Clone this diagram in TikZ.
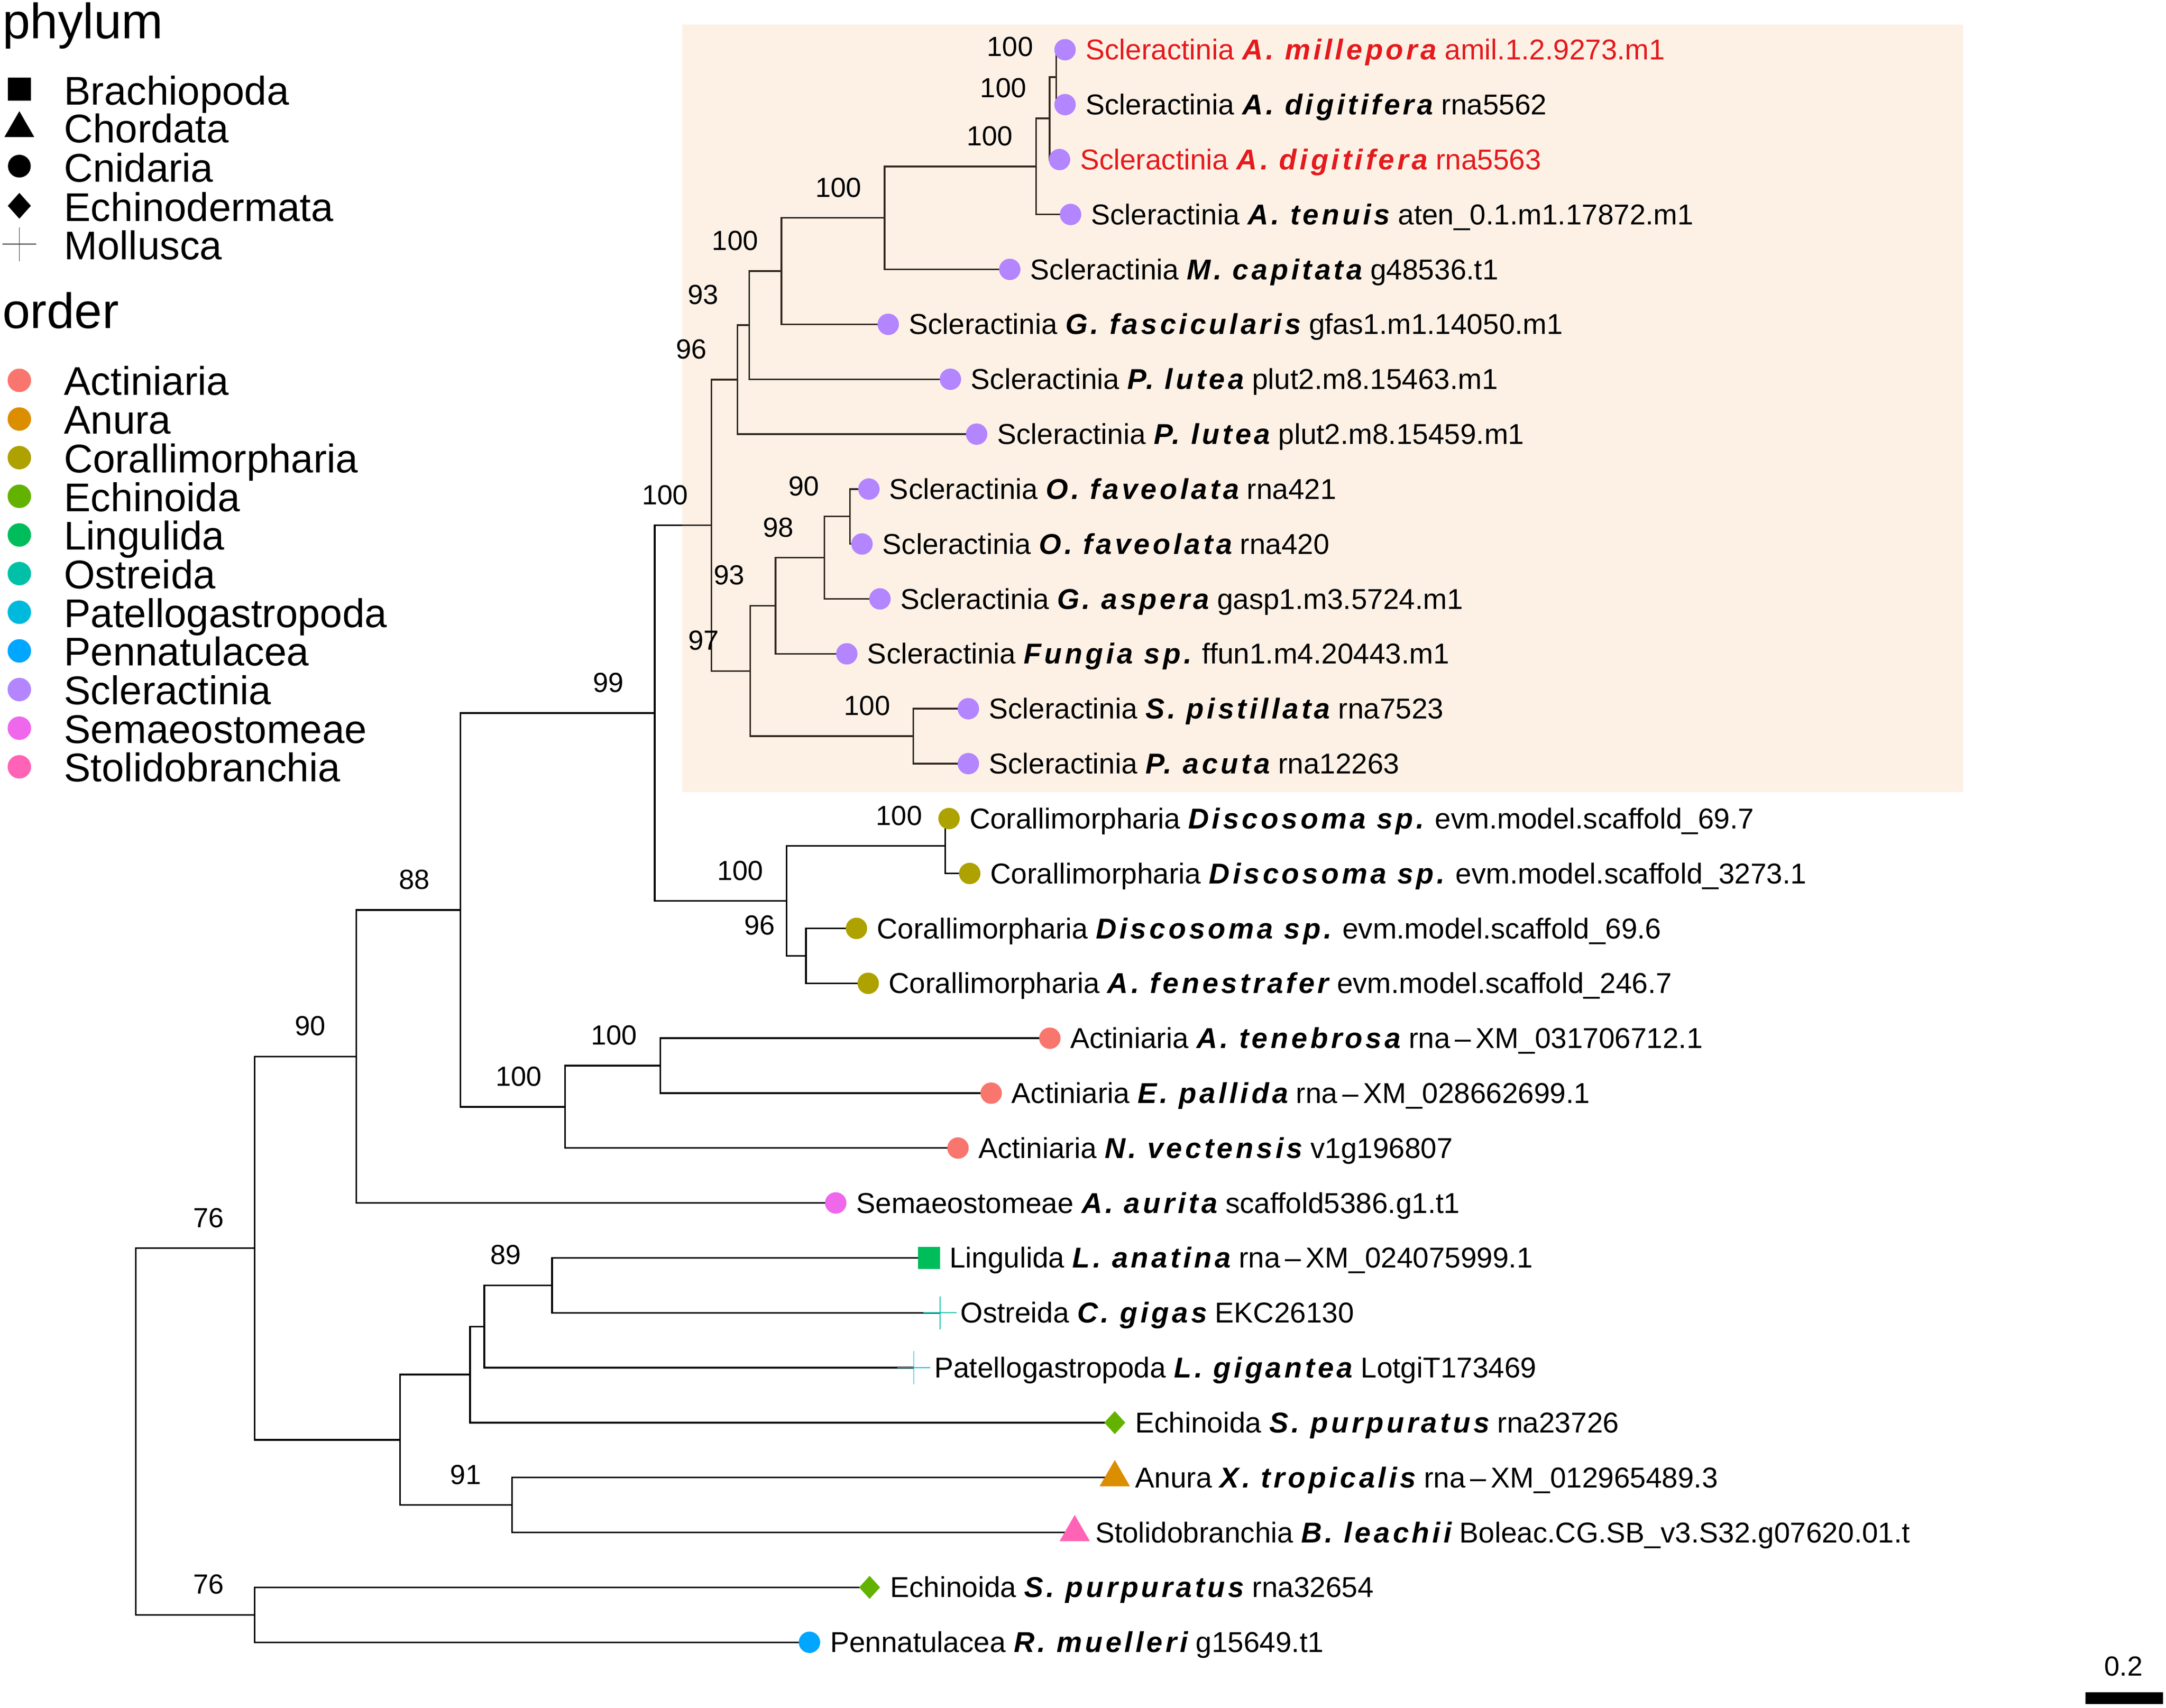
\documentclass[tikz,border=0pt]{standalone}
\usepackage{fontspec}
\setmainfont{Liberation Sans}
\newfontfamily\bifam{Liberation Sans}[LetterSpace=10.5]
\usetikzlibrary{shapes.geometric}
\definecolor{cAct}{HTML}{F8766D}
\definecolor{cAnu}{HTML}{DB8E00}
\definecolor{cCor}{HTML}{AEA200}
\definecolor{cEch}{HTML}{64B200}
\definecolor{cLin}{HTML}{00BD5C}
\definecolor{cOst}{HTML}{00C1A7}
\definecolor{cPat}{HTML}{00BADE}
\definecolor{cPen}{HTML}{00A6FF}
\definecolor{cScl}{HTML}{B385FF}
\definecolor{cSem}{HTML}{EF67EB}
\definecolor{cSto}{HTML}{FF63B6}
\definecolor{hl}{RGB}{245,190,140}
\definecolor{redlab}{RGB}{228,26,28}
\definecolor{plusgray}{RGB}{60,60,60}
\newcommand\spn[1]{{\bifam\bfseries\itshape #1}}
\newcommand\clade[3]{\draw[branch] (#2) -| (#1) |- (#3);}
\begin{document}
\begin{tikzpicture}[x=0.5pt,y=-0.5pt,
  branch/.style={line width=0.6pt, line join=miter},
  dotm/.style={circle, inner sep=0pt, minimum size=7.75pt, fill=#1},
  sqm/.style={rectangle, inner sep=0pt, minimum size=8pt, fill=#1},
  trim/.style={regular polygon, regular polygon sides=3, inner sep=0pt, minimum size=12.7pt, fill=#1},
  diam/.style={diamond, inner sep=0pt, minimum width=7.75pt, minimum height=8.5pt, fill=#1},
  plusm/.style={inner sep=0pt, minimum size=12pt,
    path picture={\draw[#1, line width=0.3pt] (path picture bounding box.west) -- (path picture bounding box.east) (path picture bounding box.north) -- (path picture bounding box.south);}},
  tiplab/.style={anchor=base west, inner sep=0pt, font=\fontsize{10.4}{12}\selectfont},
  bs/.style={inner sep=0pt, font=\fontsize{10}{12}\selectfont},
  leg/.style={anchor=base west, inner sep=0pt, font=\fontsize{14.5}{17}\selectfont},
  legt/.style={anchor=base west, inner sep=0pt, font=\fontsize{18}{21}\selectfont},
  labpos/.style={shift={(14.5,7.3)}},
  bspos/.style={shift={(-33.5,-22)}}]
\useasboundingbox (0,0) rectangle (1568,1236.3);

% ---------- tips ----------
\coordinate (t1) at (771,36.00);
\coordinate (t2) at (771,75.76);
\coordinate (t3) at (767,115.52);
\coordinate (t4) at (775,155.28);
\coordinate (t5) at (731,195.04);
\coordinate (t6) at (643,234.80);
\coordinate (t7) at (688,274.56);
\coordinate (t8) at (707,314.32);
\coordinate (t9) at (629,354.08);
\coordinate (t10) at (624,393.84);
\coordinate (t11) at (637,433.60);
\coordinate (t12) at (613,473.36);
\coordinate (t13) at (701,513.12);
\coordinate (t14) at (701,552.88);
\coordinate (t15) at (687,592.64);
\coordinate (t16) at (702,632.40);
\coordinate (t17) at (620,672.16);
\coordinate (t18) at (628.5,711.92);
\coordinate (t19) at (760,751.68);
\coordinate (t20) at (717.5,791.44);
\coordinate (t21) at (693.5,831.20);
\coordinate (t22) at (605,870.96);
\coordinate (t23) at (672.5,910.72);
\coordinate (t24) at (680.5,950.48);
\coordinate (t25) at (661.5,990.24);
\coordinate (t26) at (807,1030.00);
\coordinate (t27) at (807,1069.76);
\coordinate (t28) at (778,1109.52);
\coordinate (t29) at (629.5,1149.28);
\coordinate (t30) at (586,1189.04);

% ---------- internal nodes ----------
\coordinate (n1) at (764.7,55.88);
\coordinate (n2) at (759.8,85.70);
\coordinate (n3) at (750.0,120.49);
\coordinate (n4) at (640.4,157.77);
\coordinate (n5) at (565.7,196.28);
\coordinate (n6) at (542.4,235.42);
\coordinate (n7) at (533.9,274.87);
\coordinate (na) at (615.3,373.96);
\coordinate (nb) at (596.9,403.78);
\coordinate (nc) at (561.4,438.57);
\coordinate (ne) at (661.2,533.00);
\coordinate (nd) at (543.0,485.79);
\coordinate (n8) at (515.0,380.33);
\coordinate (nf) at (684.3,612.52);
\coordinate (nh) at (583.5,692.04);
\coordinate (ng) at (569.4,652.28);
\coordinate (n9) at (474.0,516.31);
\coordinate (ni) at (478.0,771.56);
\coordinate (np) at (409.0,801.38);
\coordinate (nq) at (333.4,658.85);
\coordinate (nr) at (258.0,764.91);
\coordinate (nm) at (399.7,930.60);
\coordinate (nl) at (350.6,960.42);
\coordinate (nk) at (340.2,995.21);
\coordinate (nn) at (370.6,1089.64);
\coordinate (nj) at (289.7,1042.43);
\coordinate (ns) at (184.4,903.67);
\coordinate (no) at (184.4,1169.16);
\coordinate (root) at (98.2,1036.42);

% ---------- branches ----------
\clade{n1}{t1}{t2}
\clade{n2}{n1}{t3}
\clade{n3}{n2}{t4}
\clade{n4}{n3}{t5}
\clade{n5}{n4}{t6}
\clade{n6}{n5}{t7}
\clade{n7}{n6}{t8}
\clade{na}{t9}{t10}
\clade{nb}{na}{t11}
\clade{nc}{nb}{t12}
\clade{ne}{t13}{t14}
\clade{nd}{nc}{ne}
\clade{n8}{n7}{nd}
\clade{nf}{t15}{t16}
\clade{nh}{t17}{t18}
\clade{ng}{nf}{nh}
\clade{n9}{n8}{ng}
\clade{ni}{t19}{t20}
\clade{np}{ni}{t21}
\clade{nq}{n9}{np}
\clade{nr}{nq}{t22}
\clade{nm}{t23}{t24}
\clade{nl}{nm}{t25}
\clade{nk}{nl}{t26}
\clade{nn}{t27}{t28}
\clade{nj}{nk}{nn}
\clade{ns}{nr}{nj}
\clade{no}{t29}{t30}
\clade{root}{ns}{no}

% ---------- highlight ----------
\fill[hl, opacity=0.22] (494,17.7) rectangle (1421,573.4);

% ---------- markers ----------
\foreach \i in {1,...,14} {\node[dotm=cScl] (m\i) at (t\i) {};}
\foreach \i in {15,...,18} {\node[dotm=cCor] (m\i) at (t\i) {};}
\foreach \i in {19,20,21} {\node[dotm=cAct] (m\i) at (t\i) {};}
\node[dotm=cSem] (m22) at (t22) {};
\node[sqm=cLin] (m23) at (t23) {};
\node[plusm=cOst] (m24) at (t24) {};
\node[plusm=cPat] (m25) at (t25) {};
\node[diam=cEch] (m26) at (t26) {};
\node[trim=cAnu] (m27) at (t27) {};
\node[trim=cSto] (m28) at (t28) {};
\node[diam=cEch] (m29) at (t29) {};
\node[dotm=cPen] (m30) at (t30) {};

% ---------- tip labels ----------
\node[tiplab, text=redlab] (l1) at ([labpos]m1.center) {Scleractinia \spn{A. millepora} amil.1.2.9273.m1};
\node[tiplab] (l2) at ([labpos]m2.center) {Scleractinia \spn{A. digitifera} rna5562};
\node[tiplab, text=redlab] (l3) at ([labpos]m3.center) {Scleractinia \spn{A. digitifera} rna5563};
\node[tiplab] (l4) at ([labpos]m4.center) {Scleractinia \spn{A. tenuis} aten\_0.1.m1.17872.m1};
\node[tiplab] (l5) at ([labpos]m5.center) {Scleractinia \spn{M. capitata} g48536.t1};
\node[tiplab] (l6) at ([labpos]m6.center) {Scleractinia \spn{G. fascicularis} gfas1.m1.14050.m1};
\node[tiplab] (l7) at ([labpos]m7.center) {Scleractinia \spn{P. lutea} plut2.m8.15463.m1};
\node[tiplab] (l8) at ([labpos]m8.center) {Scleractinia \spn{P. lutea} plut2.m8.15459.m1};
\node[tiplab] (l9) at ([labpos]m9.center) {Scleractinia \spn{O. faveolata} rna421};
\node[tiplab] (l10) at ([labpos]m10.center) {Scleractinia \spn{O. faveolata} rna420};
\node[tiplab] (l11) at ([labpos]m11.center) {Scleractinia \spn{G. aspera} gasp1.m3.5724.m1};
\node[tiplab] (l12) at ([labpos]m12.center) {Scleractinia \spn{Fungia sp.} ffun1.m4.20443.m1};
\node[tiplab] (l13) at ([labpos]m13.center) {Scleractinia \spn{S. pistillata} rna7523};
\node[tiplab] (l14) at ([labpos]m14.center) {Scleractinia \spn{P. acuta} rna12263};
\node[tiplab] (l15) at ([labpos]m15.center) {Corallimorpharia \spn{Discosoma sp.} evm.model.scaffold\_69.7};
\node[tiplab] (l16) at ([labpos]m16.center) {Corallimorpharia \spn{Discosoma sp.} evm.model.scaffold\_3273.1};
\node[tiplab] (l17) at ([labpos]m17.center) {Corallimorpharia \spn{Discosoma sp.} evm.model.scaffold\_69.6};
\node[tiplab] (l18) at ([labpos]m18.center) {Corallimorpharia \spn{A. fenestrafer} evm.model.scaffold\_246.7};
\node[tiplab] (l19) at ([labpos]m19.center) {Actiniaria \spn{A. tenebrosa} rna\,–\,XM\_031706712.1};
\node[tiplab] (l20) at ([labpos]m20.center) {Actiniaria \spn{E. pallida} rna\,–\,XM\_028662699.1};
\node[tiplab] (l21) at ([labpos]m21.center) {Actiniaria \spn{N. vectensis} v1g196807};
\node[tiplab] (l22) at ([labpos]m22.center) {Semaeostomeae \spn{A. aurita} scaffold5386.g1.t1};
\node[tiplab] (l23) at ([labpos]m23.center) {Lingulida \spn{L. anatina} rna\,–\,XM\_024075999.1};
\node[tiplab] (l24) at ([labpos]m24.center) {Ostreida \spn{C. gigas} EKC26130};
\node[tiplab] (l25) at ([labpos]m25.center) {Patellogastropoda \spn{L. gigantea} LotgiT173469};
\node[tiplab] (l26) at ([labpos]m26.center) {Echinoida \spn{S. purpuratus} rna23726};
\node[tiplab] (l27) at ([labpos]m27.center) {Anura \spn{X. tropicalis} rna\,–\,XM\_012965489.3};
\node[tiplab] (l28) at ([labpos]m28.center) {Stolidobranchia \spn{B. leachii} Boleac.CG.SB\_v3.S32.g07620.01.t};
\node[tiplab] (l29) at ([labpos]m29.center) {Echinoida \spn{S. purpuratus} rna32654};
\node[tiplab] (l30) at ([labpos]m30.center) {Pennatulacea \spn{R. muelleri} g15649.t1};

% ---------- bootstrap values ----------
\node[bs] (b1) at ([bspos]n1) {100};
\node[bs] (b2) at ([bspos]n2) {100};
\node[bs] (b3) at ([bspos]n3) {100};
\node[bs] (b4) at ([bspos]n4) {100};
\node[bs] (b5) at ([bspos]n5) {100};
\node[bs] (b6) at ([bspos]n6) {93};
\node[bs] (b7) at ([bspos]n7) {96};
\node[bs] (b8) at ([bspos]n8) {100};
\node[bs] (ba) at ([bspos]na) {90};
\node[bs] (bb) at ([bspos]nb) {98};
\node[bs] (bc) at ([bspos]nc) {93};
\node[bs] (bd) at ([bspos]nd) {97};
\node[bs] (be) at ([bspos]ne) {100};
\node[bs] (b9) at ([bspos]n9) {99};
\node[bs] (bf) at ([bspos]nf) {100};
\node[bs] (bg) at ([bspos]ng) {100};
\node[bs] (bh) at ([bspos]nh) {96};
\node[bs] (bq) at ([bspos]nq) {88};
\node[bs] (br) at ([bspos]nr) {90};
\node[bs] (bi) at ([bspos]ni) {100};
\node[bs] (bp) at ([bspos]np) {100};
\node[bs] (bs1) at ([bspos]ns) {76};
\node[bs] (bm) at ([bspos]nm) {89};
\node[bs] (bn) at ([bspos]nn) {91};
\node[bs] (bo) at ([bspos]no) {76};

% ---------- legend: phylum ----------
\node[legt] (phy) at (1.6,28) {phylum};
\node[sqm=black, minimum size=8.25pt] (kp1) at (14,64.6) {};
\node[trim=black, minimum size=12.5pt] (kp2) at (14,93) {};
\node[dotm=black, minimum size=8.25pt] (kp3) at (14,120.3) {};
\node[diam=black, minimum width=8.5pt, minimum height=9.5pt] (kp4) at (14,149) {};
\node[plusm=plusgray, minimum size=12.2pt] (kp5) at (14,176.8) {};
\node[leg] (lp1) at (46,75.9) {Brachiopoda};
\node[leg] (lp2) at (46,103.3) {Chordata};
\node[leg] (lp3) at (46,131.7) {Cnidaria};
\node[leg] (lp4) at (46,160.1) {Echinodermata};
\node[leg] (lp5) at (46,187.8) {Mollusca};

% ---------- legend: order ----------
\node[legt] (ord) at (1.6,237.6) {order};
\foreach \c/\t [count=\k from 0] in {cAct/Actiniaria, cAnu/Anura, cCor/Corallimorpharia, cEch/Echinoida, cLin/Lingulida, cOst/Ostreida, cPat/Patellogastropoda, cPen/Pennatulacea, cScl/Scleractinia, cSem/Semaeostomeae, cSto/Stolidobranchia} {
  \node[dotm=\c, minimum size=8.5pt] (ko\k) at (14,{275.4+\k*27.98}) {};
  \node[leg] (lo\k) at (46,{286.2+\k*27.98}) {\t};
}

% ---------- scale bar ----------
\fill (1509.6,1225.1) rectangle (1566,1233.7);
\node[bs] (sb) at (1537.2,1206.5) {0.2};
\end{tikzpicture}
\end{document}
